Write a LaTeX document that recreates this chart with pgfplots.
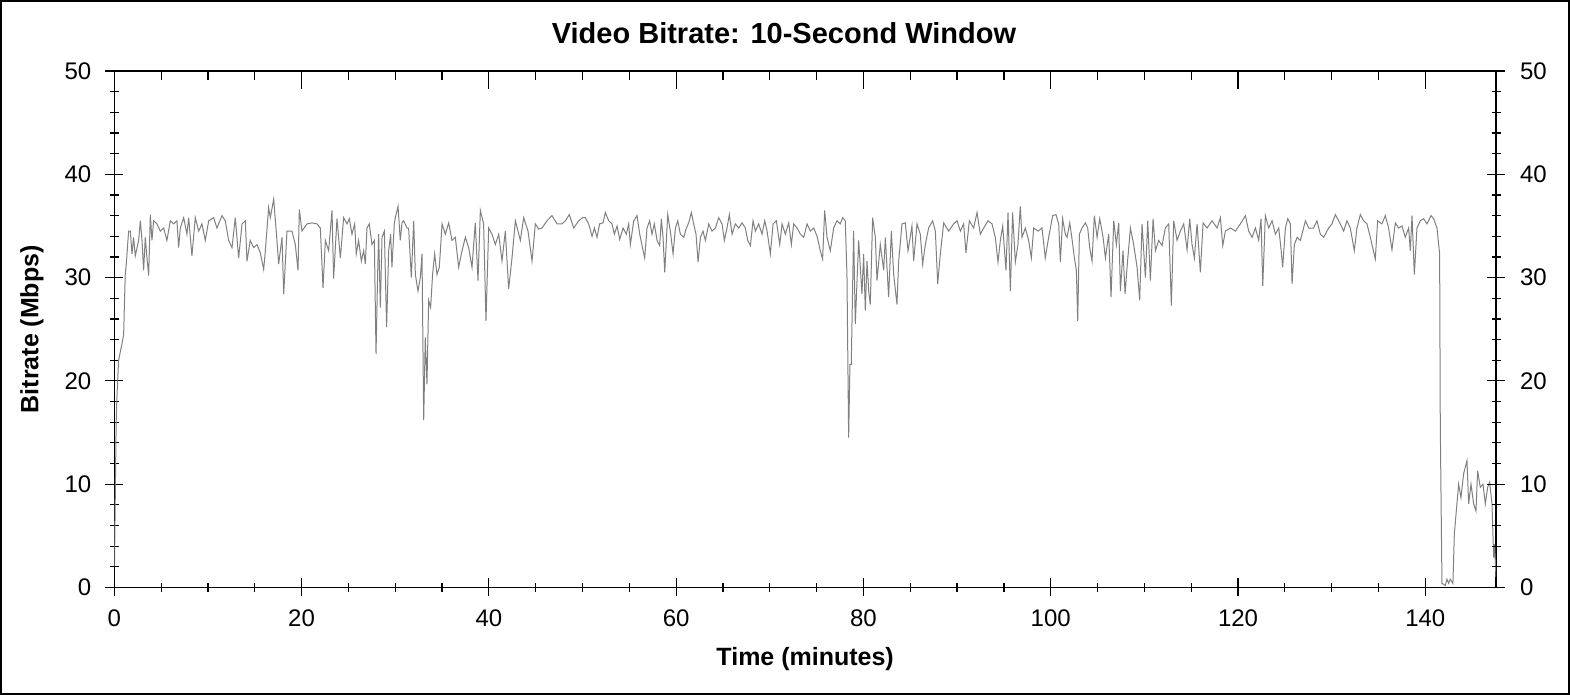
\documentclass[border=0pt]{standalone}
\usepackage{pgfplots}
\pgfplotsset{compat=1.18}
\usepackage{fontspec}
\setmainfont{Liberation Sans}
\definecolor{traceGray}{HTML}{808080}

\newcommand{\tickfont}{\fontsize{12}{14.4}\selectfont}

\pgfplotsset{
  bitrateframe/.style={
    at={(0,0)}, anchor=south west,
    scale only axis, width=690.85pt, height=258.25pt,
    xmin=0, xmax=147.55, ymin=0, ymax=50,
    xtick={0,20,...,140}, ytick={0,10,...,50},
    minor x tick num=3, minor y tick num=4,
    major tick length=9pt, minor tick length=4.5pt,
    font=\tickfont,
    xticklabel={\tickfont\pgfmathprintnumber[assume math mode=true]{\tick}},
    yticklabel={\tickfont\pgfmathprintnumber[assume math mode=true]{\tick}},
    every tick label/.append style={font=\tickfont},
    every tick/.style={black, line width=0.6pt},
  },
}

\begin{document}
\begin{tikzpicture}[font=\tickfont]
\useasboundingbox (-57.15pt,-53.75pt) rectangle (727.85pt,293.75pt);
\draw[line width=1pt] (-56.65pt,-53.25pt) rectangle (727.35pt,293.25pt);
\node[font=\fontsize{14.5}{17}\selectfont\bfseries] at (334.85pt,277.25pt) {Video Bitrate: 10-Second Window};
\begin{axis}[
    bitrateframe,
    tick align=center,
    xtick pos=lower, ytick pos=left,
    axis line style={line width=0.6pt},
    xticklabel style={yshift=-3pt},
    yticklabel style={xshift=-3.5pt},
    xlabel={Time (minutes)}, ylabel={Bitrate (Mbps)},
    label style={font=\fontsize{12.5}{15}\selectfont\bfseries},
    xlabel style={at={(axis description cs:0.5,-0.1384)}, anchor=center},
    ylabel style={at={(axis description cs:-0.0596,0.5)}, anchor=center},
]
\addplot[traceGray, line width=0.5pt] table {
x y
0.02 2.1
0.12 10
0.2 16
0.28 18.4
0.46 22.0
0.82 23.6
1.0 24.5
1.07 27.0
1.17 30.3
1.28 31.3
1.53 34.5
1.71 34.5
1.89 32.3
2.06 33.9
2.24 32.1
2.6 33.6
2.78 35.5
2.96 33.6
3.13 30.7
3.31 33.9
3.49 31.9
3.67 30.2
3.85 36.1
4.02 33.6
4.2 35.5
4.56 35.2
4.91 34.5
5.27 34.8
5.62 33.6
5.98 35.5
6.34 35.2
6.69 35.5
6.87 32.9
7.05 34.8
7.41 35.8
7.76 34.2
7.94 35.8
8.29 32.1
8.65 35.8
9.01 34.5
9.36 35.2
9.72 33.6
10.08 35.5
10.61 35.8
10.96 34.8
11.5 36.0
11.85 35.5
12.21 33.6
12.57 32.9
12.92 35.8
13.28 31.9
13.64 35.2
13.99 35.5
14.17 31.6
14.52 33.6
14.88 32.9
15.24 33.2
15.59 32.4
15.95 30.8
16.13 32.6
16.48 36.8
16.66 35.8
17.02 37.6
17.37 33.6
17.55 31.3
17.91 33.9
18.09 28.4
18.44 34.5
18.97 34.5
19.33 33.2
19.62 30.7
19.76 36.6
20.04 34.5
20.58 35.2
21.11 35.3
21.65 35.2
22.0 34.8
22.29 29.0
22.54 33.6
22.89 32.6
23.25 36.5
23.42 29.9
23.78 35.7
24.14 31.9
24.49 35.8
24.85 35.2
25.1 35.7
25.38 34.2
25.67 35.2
25.84 32.3
26.09 33.6
26.38 31.6
26.63 32.6
26.81 31.3
26.98 34.8
27.23 35.2
27.52 33.2
27.77 33.6
27.95 22.6
28.12 30.3
28.23 34.2
28.41 27.1
28.59 33.9
28.84 34.5
29.08 25.2
29.3 32.6
29.51 34.2
29.65 31.0
29.9 35.2
30.01 35.8
30.3 36.9
30.54 33.6
30.72 35.3
30.9 35.5
31.26 34.8
31.43 34.8
31.72 30.0
31.97 35.5
32.15 30.3
32.43 28.7
32.68 30.0
32.86 32.3
33.04 16.2
33.21 24.2
33.39 19.7
33.57 27.8
33.78 27.1
33.99 30.3
34.21 32.3
34.46 30.3
34.71 31.0
35.0 35.2
35.35 34.2
35.71 35.3
36.06 33.6
36.42 33.9
36.77 31.0
37.13 32.6
37.49 33.9
37.84 32.9
38.2 31.0
38.55 35.3
38.84 29.7
39.09 36.5
39.44 35.2
39.69 25.8
39.98 34.8
40.33 34.2
40.69 33.2
41.05 34.2
41.4 31.6
41.76 34.5
42.11 28.9
42.47 31.9
42.83 35.5
43.36 33.6
43.72 35.8
44.18 34.5
44.61 31.6
44.96 35.2
45.32 34.7
45.67 34.8
46.21 35.5
46.74 36.0
47.28 35.2
47.81 35.2
48.17 35.5
48.59 36.1
49.06 34.8
49.59 35.5
50.02 35.8
50.3 35.8
50.66 35.2
51.02 34.0
51.27 34.8
51.55 33.9
51.83 35.2
52.19 35.3
52.44 36.3
52.8 35.5
53.15 35.2
53.4 34.2
53.69 35.0
53.97 33.7
54.33 34.8
54.68 34.2
54.93 35.2
55.11 33.2
55.47 35.5
55.82 36.0
56.11 34.2
56.36 33.1
56.64 31.9
56.89 34.8
57.17 35.5
57.42 34.2
57.67 35.2
57.96 33.6
58.24 33.1
58.42 35.7
58.6 33.9
58.78 30.5
59.1 36.1
59.38 34.5
59.67 32.3
59.92 34.8
60.17 35.5
60.45 34.2
60.81 33.9
61.09 34.8
61.34 35.3
61.62 36.3
61.87 35.2
62.12 34.2
62.34 31.5
62.59 33.9
62.87 34.5
63.12 33.6
63.48 35.2
63.83 34.5
64.19 34.8
64.54 35.8
64.9 35.2
65.15 33.6
65.43 34.8
65.68 36.1
65.97 34.2
66.32 35.2
66.68 34.8
67.04 35.3
67.39 34.8
67.64 33.6
67.93 33.1
68.21 35.5
68.46 34.5
68.81 35.2
69.17 34.2
69.46 35.5
69.71 34.5
70.06 32.3
70.35 35.2
70.7 35.5
71.06 33.2
71.31 35.2
71.66 34.2
72.02 35.3
72.3 33.2
72.55 35.2
72.91 34.8
73.27 34.2
73.62 33.9
73.98 35.2
74.33 34.5
74.69 34.8
75.05 34.0
75.39 32.6
75.64 31.8
75.86 36.5
76.11 33.9
76.46 32.6
76.82 34.8
77.17 35.5
77.53 35.2
77.78 35.8
78.06 35.5
78.24 30.3
78.42 14.5
78.56 21.6
78.7 21.6
78.95 34.5
79.13 25.5
79.49 33.6
79.84 28.4
80.02 32.3
80.2 26.8
80.38 31.6
80.56 28.7
80.73 27.4
80.98 35.8
81.27 33.9
81.45 29.7
81.8 33.2
82.16 30.7
82.34 33.9
82.69 28.1
82.98 34.5
83.23 30.3
83.58 27.4
83.76 31.6
84.12 35.2
84.47 35.3
84.76 32.6
85.18 35.0
85.36 31.6
85.72 35.2
86.07 34.2
86.32 31.3
86.61 33.2
86.96 34.8
87.39 35.5
87.68 34.5
87.93 29.4
88.21 32.3
88.57 35.3
89.1 34.5
89.63 35.2
89.99 35.5
90.35 34.5
90.7 35.2
90.95 32.4
91.31 35.5
91.77 34.8
92.13 36.3
92.48 34.2
92.84 34.8
93.3 35.5
93.73 35.2
94.08 33.9
94.37 31.5
94.62 33.6
94.87 35.0
95.22 30.7
95.44 36.3
95.69 28.7
95.93 36.3
96.22 31.5
96.5 33.2
96.75 36.9
96.93 33.9
97.29 34.8
97.64 33.6
97.93 31.9
98.18 34.8
98.64 34.5
99.07 34.8
99.42 31.9
99.78 33.9
100.21 36.0
100.56 36.1
100.85 35.2
101.03 31.5
101.27 35.7
101.56 34.2
101.74 33.9
102.03 35.3
102.28 33.7
102.53 31.9
102.74 30.7
102.88 25.8
103.06 34.2
103.34 34.8
103.7 35.3
103.95 34.8
104.16 32.9
104.41 31.6
104.66 36.0
104.95 33.9
105.23 35.7
105.59 33.9
105.84 31.9
106.19 34.2
106.44 28.1
106.73 35.5
107.01 33.2
107.26 35.3
107.44 28.7
107.72 32.6
107.94 28.4
108.15 31.0
108.51 34.8
108.86 33.2
109.22 31.0
109.5 27.8
109.75 35.2
110.11 30.0
110.36 35.5
110.64 29.7
110.93 35.7
111.18 32.6
111.53 33.6
111.89 33.1
112.24 34.8
112.6 35.2
112.88 27.3
113.13 35.5
113.49 33.6
113.85 34.5
114.2 35.2
114.56 32.7
114.84 35.7
115.09 33.2
115.34 31.9
115.63 35.2
115.98 30.5
116.27 35.3
116.69 34.8
117.23 35.5
117.76 34.8
118.12 35.8
118.37 33.1
118.65 34.5
119.19 34.8
119.72 34.5
120.25 35.2
120.79 36.0
121.14 34.5
121.5 33.9
121.86 34.8
122.21 33.6
122.46 35.7
122.64 29.2
122.92 36.0
123.28 34.8
123.64 35.5
123.99 34.2
124.35 34.8
124.6 32.7
124.77 31.0
125.06 34.8
125.31 35.7
125.59 35.2
125.77 29.4
126.02 33.2
126.31 33.9
126.66 33.6
127.2 35.5
127.55 34.8
127.72 34.8
128.07 34.8
128.43 35.5
128.79 34.2
129.14 33.9
129.68 34.8
130.03 35.2
130.39 36.1
130.92 35.2
131.28 34.5
131.63 35.5
131.99 34.8
132.42 32.6
132.7 34.8
133.06 36.1
133.41 35.5
133.77 35.2
134.13 33.9
134.66 31.8
134.91 35.5
135.37 35.2
135.73 36.0
136.08 34.8
136.44 32.7
136.8 35.3
137.15 34.8
137.51 35.0
137.86 33.9
138.22 34.8
138.4 32.6
138.58 36.0
138.83 30.3
139.11 34.8
139.47 35.5
139.82 35.7
140.18 35.2
140.61 36.0
140.89 35.7
141.25 34.8
141.53 32.3
141.6 15.8
141.71 6.2
141.78 0.4
142.14 0.2
142.31 0.8
142.49 0.4
142.67 0.8
142.95 0.4
143.1 5.2
143.31 7.4
143.56 10.0
143.81 8.7
144.09 11.0
144.45 12.3
144.63 8.1
144.88 10.0
145.16 8.1
145.41 7.4
145.59 11.3
145.87 9.7
146.16 10.0
146.41 8.1
146.66 9.7
146.87 10.2
147.12 8.1
147.3 2.9
147.4 4.2
147.55 1.0
};
\end{axis}
% right-hand ticks and labels
\begin{axis}[
    bitrateframe,
    tick align=center,
    hide x axis, axis y line*=right,
    y axis line style={draw=none},
    yticklabel style={xshift=4pt},
]
\addplot[draw=none] coordinates {(0,0)};
\end{axis}
% top ticks, pointing inward
\begin{axis}[
    bitrateframe,
    tick align=inside,
    hide y axis, axis x line*=top,
    x axis line style={draw=none},
    xticklabels={},
]
\addplot[draw=none] coordinates {(0,0)};
\end{axis}
\end{tikzpicture}
\end{document}
